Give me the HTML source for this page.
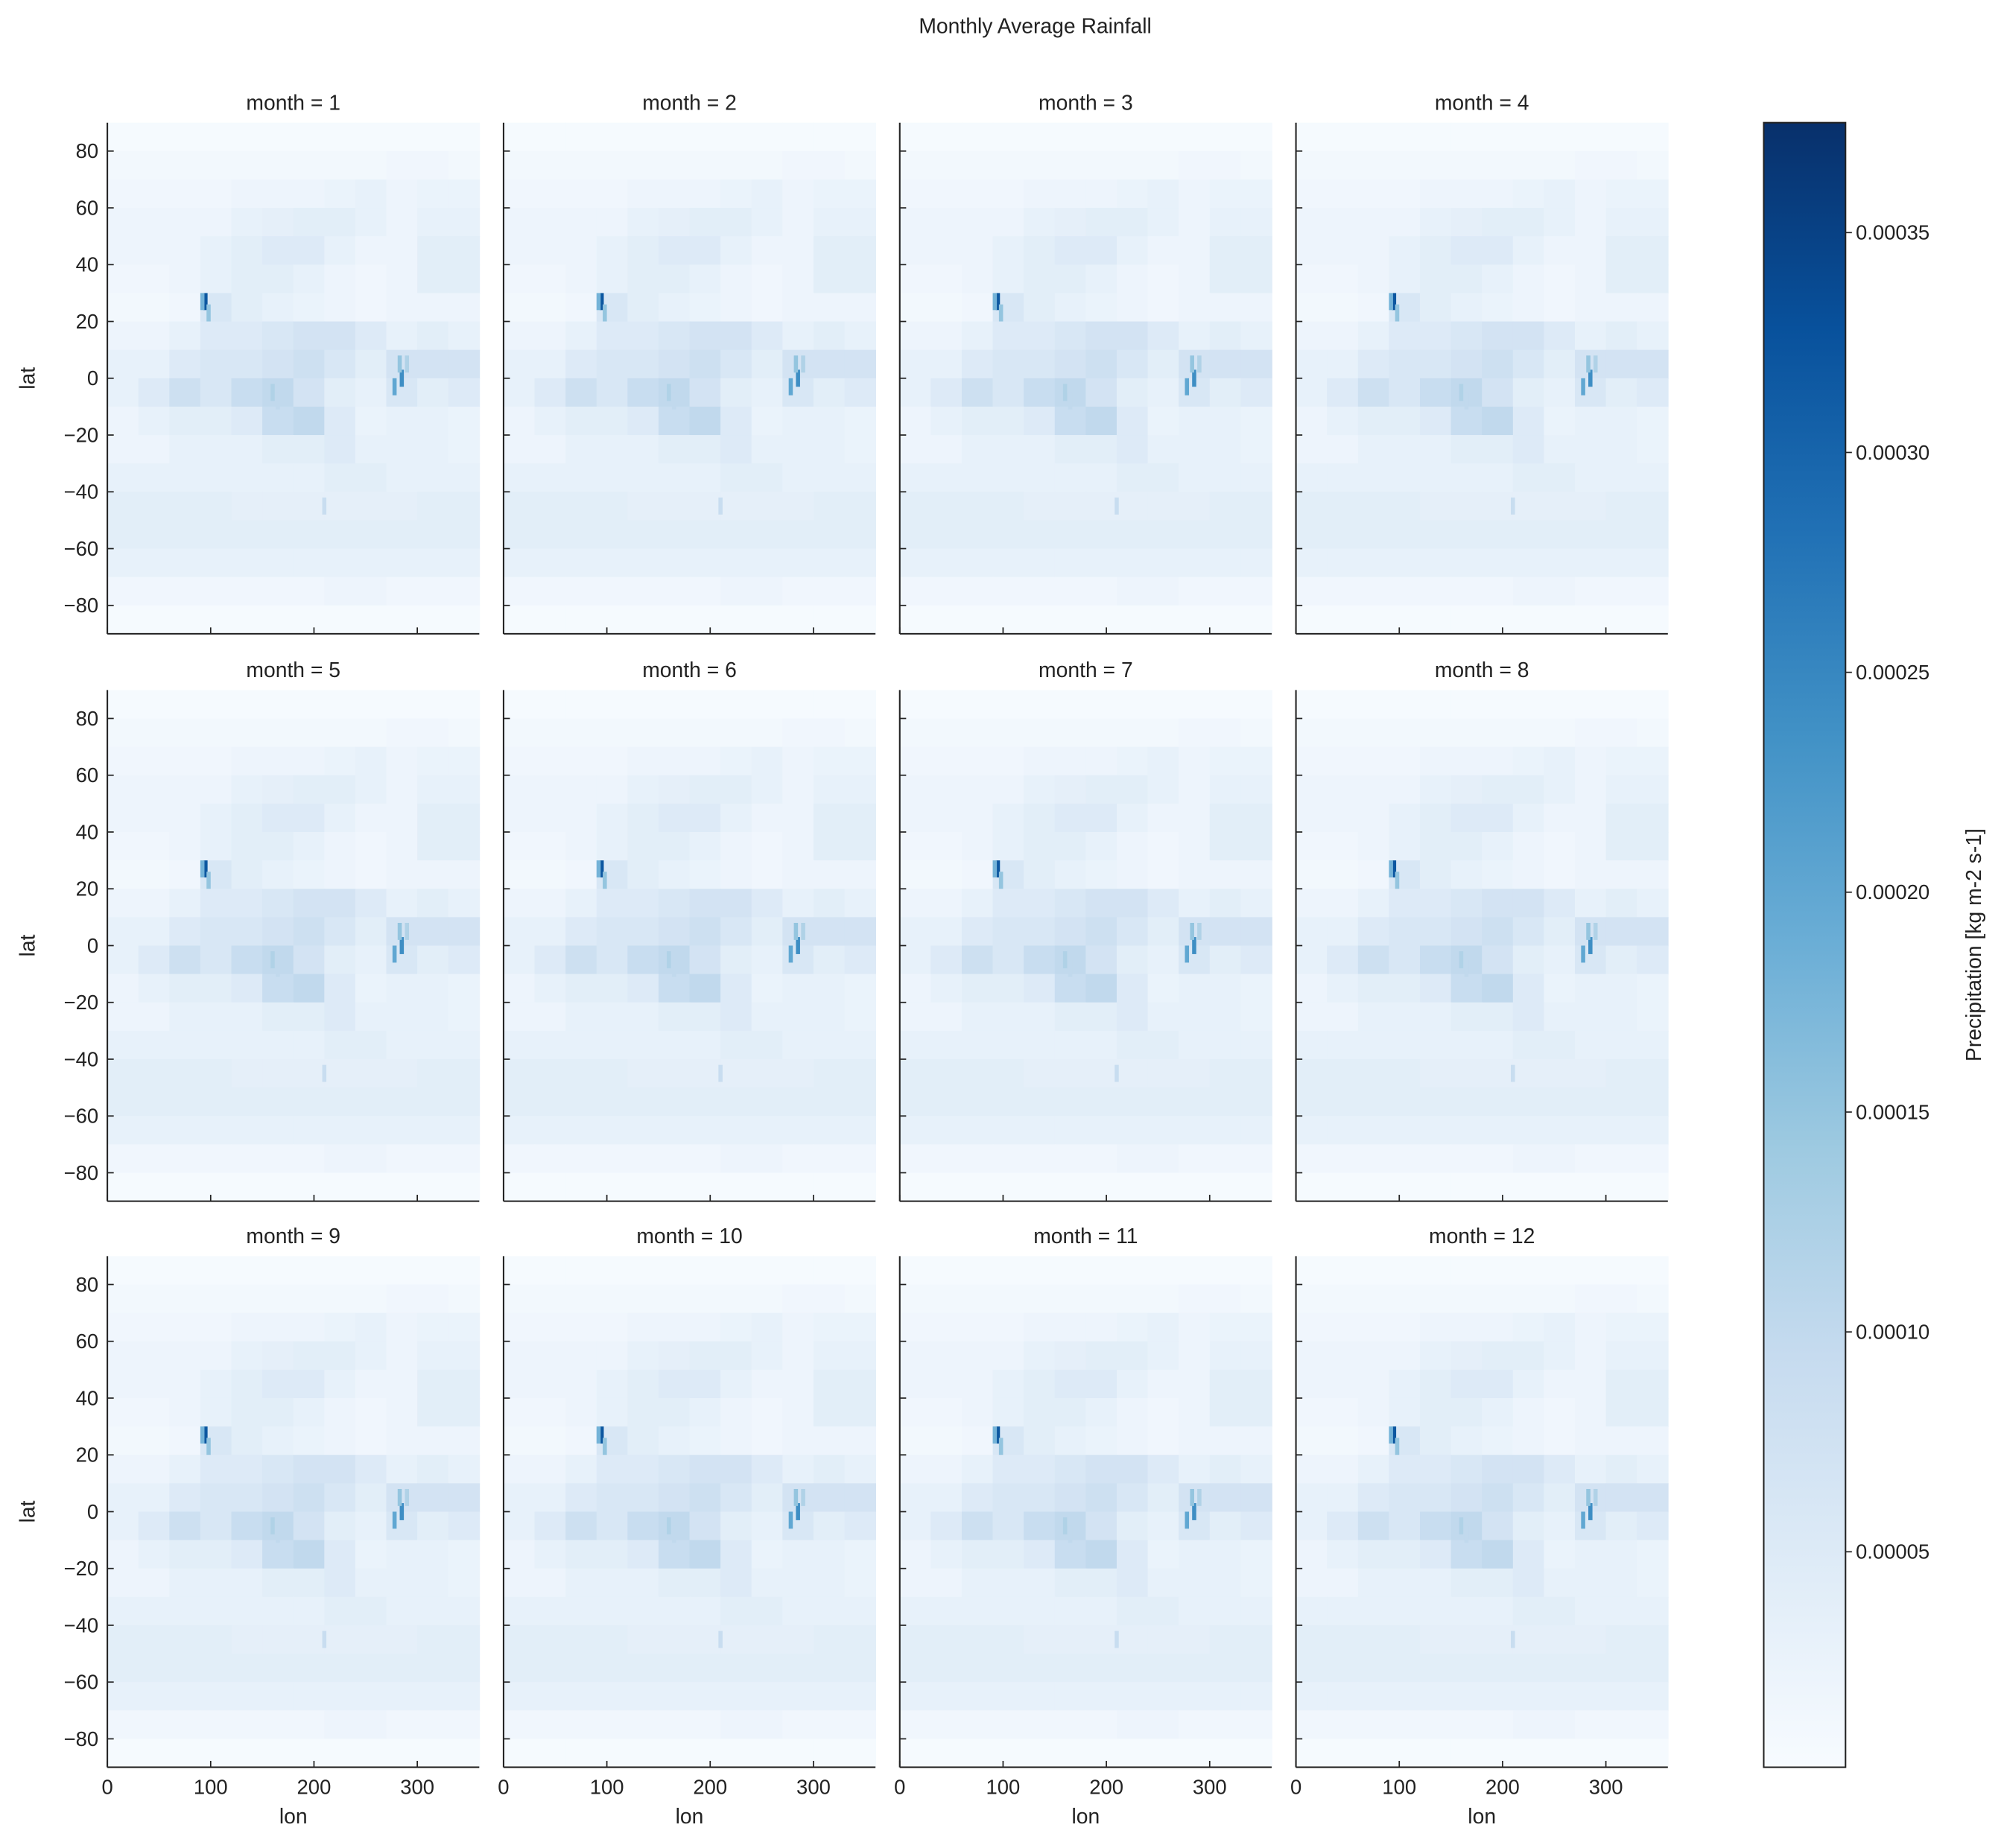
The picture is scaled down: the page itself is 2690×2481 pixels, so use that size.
<!DOCTYPE html>
<html><head><meta charset="utf-8"><style>
html,body{margin:0;padding:0;background:#fff;}
svg{display:block;font-family:"Liberation Sans","DejaVu Sans",sans-serif;}
</style></head><body>
<svg id="fig" width="2690" height="2481" viewBox="0 0 1568 1446.2" preserveAspectRatio="none" xmlns="http://www.w3.org/2000/svg">
<defs>
<linearGradient id="blues" x1="0" y1="1" x2="0" y2="0">
<stop offset="0" stop-color="#f7fbff"/><stop offset="0.125" stop-color="#deebf7"/><stop offset="0.25" stop-color="#c6dbef"/><stop offset="0.375" stop-color="#9ecae1"/><stop offset="0.5" stop-color="#6baed6"/><stop offset="0.625" stop-color="#4292c6"/><stop offset="0.75" stop-color="#2171b5"/><stop offset="0.875" stop-color="#08519c"/><stop offset="1" stop-color="#08306b"/>
</linearGradient>
</defs>
<text x="810" y="26" font-size="16.5" text-anchor="middle" fill="#222">Monthly Average Rainfall</text>
<g id="panels"></g>
<g id="cbar"></g>
</svg>
<script>
// data (precipitation in 1e-5 kg m-2 s-1)
const months = [1,2,3,4,5,6,7,8,9,10,11,12];
const latBands = [85,75,65,55,45,35,25,15,5,-5,-15,-25,-35,-45,-55,-65,-75,-85];
const lonBins = [15,45,75,105,135,165,195,225,255,285,315,345];
const precipGrid = [
[0.5,0.5,0.5,0.5,0.5,0.5,0.5,0.5,0.5,0.5,0.5,0.5],
[1,1,1,1,1,1,1,1,1,1.5,1.5,1],
[1.5,1.5,1.5,1.5,2,2,2,2.5,3,2,2.5,2.5],
[2,2,2,2,3,3.5,4,4,3,2,3,3],
[2,2,2,3,4,5,5,3,2,2,4,4],
[1.5,1.5,2,3,4,4,3,2,1.5,2,4,4],
[1,1,1.5,6,4,3,2.5,2,1.5,2,2,2],
[2,2,3,5,5,6,7,7,5,3,4,3],
[3,3,5,6,6,7,8,6,4,7,7,7],
[3,5,8,6,9,10,7,4,3,6,4,5],
[2,3,4,4,5,9,10,5,2.5,3,3,2.5],
[2,2,3,3,3,4,4,5,3,3,3,2.5],
[3,3,3,3,3,3,3,4,4,3,3,3],
[4,4,4,4,3.5,3.5,3.5,3.5,3.5,3.5,4,4],
[4,4,4,4,4,4,4,4,4,4,4,4],
[3,3,3,3,3,3,3,3,3,3,3,3],
[1.5,1.5,1.5,1.5,1.5,1.5,1.5,2,2,1.5,1.5,1.5],
[0.5,0.5,0.5,0.5,0.5,0.5,0.5,0.5,0.5,0.5,0.5,0.5]
];
const hotLon = [95,92,98,285,283,278,290,160,165,210];
const hotLat = [27,27,23,0,5,-3,5,-5,-8,-45];
const hotVal = [32,18,15,24,15,20,12,12,10,9];
const yTicks = [80,60,40,20,0,-20,-40,-60,-80];
const xTicks = [0,100,200,300];
const cbTicks = [5,10,15,20,25,30,35];
const cbLabels = ["0.00005","0.00010","0.00015","0.00020","0.00025","0.00030","0.00035"];
const vmin = 0.1, vmax = 37.5;

const NS="http://www.w3.org/2000/svg";
const stops=[[0,[247,251,255]],[0.125,[222,235,247]],[0.25,[198,219,239]],[0.375,[158,202,225]],[0.5,[107,174,214]],[0.625,[66,146,198]],[0.75,[33,113,181]],[0.875,[8,81,156]],[1,[8,48,107]]];
function cmap(v){let t=(v-vmin)/(vmax-vmin);t=Math.max(0,Math.min(1,t));
 for(let i=1;i<stops.length;i++){if(t<=stops[i][0]){const a=stops[i-1],b=stops[i],f=(t-a[0])/(b[0]-a[0]);
 return `rgb(${a[1].map((c,k)=>Math.round(c+(b[1][k]-c)*f)).join(',')})`;}}return 'rgb(8,48,107)';}
function el(tag,attrs,parent){const e=document.createElementNS(NS,tag);for(const k in attrs)e.setAttribute(k,attrs[k]);parent.appendChild(e);return e;}
const colX=[84,394,704,1014], rowY=[96,540,983], PW=291, PH=400;
const panels=document.getElementById('panels');
months.forEach((m,i)=>{
 const c=i%4,r=Math.floor(i/4),x0=colX[c],y0=rowY[r];
 const xs=lon=>x0+lon/360*PW, ys=lat=>y0+(90-lat)/180*PH;
 const g=el('g',{},panels);
 
 
 precipGrid.forEach((row,ri)=>{row.forEach((v,ci)=>{
  const lat=latBands[ri],lon=lonBins[ci];
  const rc=el('rect',{x:xs(lon-15),y:ys(lat+5),width:xs(lon+15)-xs(lon-15)+0.5,height:ys(lat-5)-ys(lat+5)+0.5,fill:cmap(v)},g);
  
  
 });});
 hotVal.forEach((v,k)=>{
  const rc=el('rect',{x:xs(hotLon[k]-2),y:ys(hotLat[k]+3),width:xs(hotLon[k]+2)-xs(hotLon[k]-2),height:ys(hotLat[k]-3)-ys(hotLat[k]+3),fill:cmap(v)},g);
  
  
 });
 el('line',{x1:x0,y1:y0,x2:x0,y2:y0+PH,stroke:'#222','stroke-width':1.2},g);
 el('line',{x1:x0,y1:y0+PH,x2:x0+PW,y2:y0+PH,stroke:'#222','stroke-width':1.2},g);
 yTicks.forEach(t=>{el('line',{x1:x0,y1:ys(t),x2:x0+5,y2:ys(t),stroke:'#222','stroke-width':1},g);
  if(c===0){const tx=el('text',{x:x0-7,y:ys(t)+5.5,'font-size':16,'text-anchor':'end',fill:'#222'},g);tx.textContent=t<0?'\u2212'+(-t):t;
   }});
 xTicks.forEach(t=>{el('line',{x1:xs(t),y1:y0+PH,x2:xs(t),y2:y0+PH-5,stroke:'#222','stroke-width':1},g);
  if(r===2){const tx=el('text',{x:xs(t),y:y0+PH+21,'font-size':16,'text-anchor':'middle',fill:'#222'},g);tx.textContent=t;
   }});
 const tt=el('text',{x:x0+PW/2,y:y0-10,'font-size':16.5,'text-anchor':'middle',fill:'#222'},g);tt.textContent='month = '+m;
 
 if(c===0){const yl=el('text',{x:0,y:0,'font-size':16.5,'text-anchor':'middle',fill:'#222',transform:`translate(27,${y0+PH/2}) rotate(-90)`},g);yl.textContent='lat';
  }
 if(r===2){const xl=el('text',{x:x0+PW/2,y:y0+PH+44,'font-size':16.5,'text-anchor':'middle',fill:'#222'},g);xl.textContent='lon';
  }
});
// colorbar
const cb=document.getElementById('cbar');
const cbX=1380,cbW=64,cbTop=96,cbBot=1383;
const cy=v=>cbBot-(v-vmin)/(vmax-vmin)*(cbBot-cbTop);
const cr=el('rect',{x:cbX,y:cbTop,width:cbW,height:cbBot-cbTop,fill:'url(#blues)',stroke:'#222','stroke-width':1.2},cb);


cbTicks.forEach((t,k)=>{el('line',{x1:cbX+cbW,y1:cy(t),x2:cbX+cbW+5,y2:cy(t),stroke:'#222','stroke-width':1},cb);
 const tx=el('text',{x:cbX+cbW+8,y:cy(t)+5.5,'font-size':16,fill:'#222'},cb);tx.textContent=cbLabels[k];
 });
const cl=el('text',{x:0,y:0,'font-size':16.5,'text-anchor':'middle',fill:'#222',transform:`translate(1550,${(cbTop+cbBot)/2}) rotate(-90)`},cb);
cl.textContent='Precipitation [kg m-2 s-1]';


</script>
</body></html>
